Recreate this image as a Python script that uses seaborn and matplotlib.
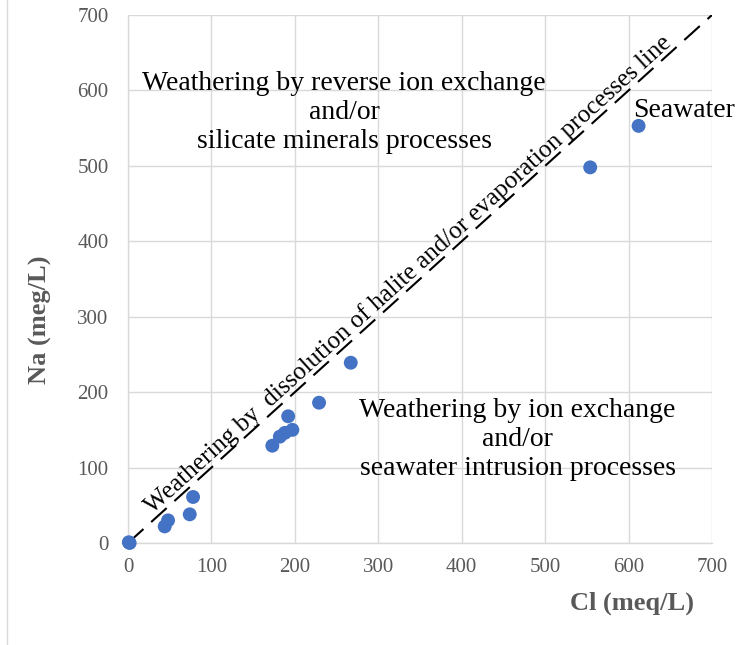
import matplotlib
matplotlib.use("Agg")
import matplotlib.pyplot as plt
from matplotlib.lines import Line2D
import seaborn as sns
import pandas as pd

# Chloride vs sodium concentrations of the sampled waters (meq/L)
cl = [1, 2, 44, 48, 74, 78, 173, 182, 188, 197, 192, 229, 267, 554, 612]
na = [1, 0, 22, 30, 38, 61, 129, 141, 146, 150, 168, 186, 239, 498, 553]

# 1:1 halite dissolution reference line
ref_x = [0, 700]
ref_y = [0, 700]

ticks = [0, 100, 200, 300, 400, 500, 600, 700]

df = pd.DataFrame({"Cl": cl, "Na": na})

sns.set_theme(style="whitegrid")
plt.rcParams["font.family"] = ["Liberation Serif", "DejaVu Serif"]

fig = plt.figure(figsize=(7.45, 6.45), dpi=100)
ax = fig.add_axes([128 / 745, 1 - 543 / 645, 584 / 745, 528 / 645])

grid_c = "#d9d9d9"
text_gray = "#595959"

sns.lineplot(x=ref_x, y=ref_y, ax=ax, color="black", linewidth=1.5,
             dashes=False, zorder=3)
ax.lines[-1].set_dashes([10, 5])

sns.scatterplot(data=df, x="Cl", y="Na", ax=ax, color="#4472C4", s=100,
                edgecolor="none", zorder=4, clip_on=False)

ax.set_xlim(0, 700)
ax.set_ylim(0, 700)
ax.set_xticks(ticks)
ax.set_yticks(ticks)
ax.grid(True, color=grid_c, linewidth=1.0)
ax.set_axisbelow(True)
for side in ["top", "right"]:
    ax.spines[side].set_visible(False)
for side in ["left", "bottom"]:
    ax.spines[side].set_color(grid_c)
    ax.spines[side].set_linewidth(1.0)

ax.tick_params(axis="both", length=0, labelsize=15, labelcolor=text_gray)
ax.tick_params(axis="y", pad=14)
ax.tick_params(axis="x", pad=11)

ax.set_xlabel("Cl (meq/L)", fontsize=19, fontweight="bold", color=text_gray)
ax.set_ylabel("Na (meg/L)", fontsize=19, fontweight="bold", color=text_gray)
ax.xaxis.set_label_coords(0.863, -0.092)
ax.yaxis.set_label_coords(-0.13, 0.422)

ax.text(259, 571, "Weathering by reverse ion exchange\nand/or\nsilicate minerals processes",
        ha="center", va="center", fontsize=20, color="black",
        linespacing=1.2, multialignment="center")
ax.text(467, 137, "Weathering by ion exchange\nand/or\nseawater intrusion processes",
        ha="center", va="center", fontsize=20, color="black",
        linespacing=1.22, multialignment="center")
ax.text(605, 574, "Seawater", ha="left", va="center", fontsize=20, color="black")
ax.text(341, 349, "Weathering by  dissolution of halite and/or evaporation processes line",
        ha="center", va="baseline", fontsize=18.1, color="black",
        rotation=45, rotation_mode="anchor", transform_rotates_text=True)

fig.add_artist(Line2D([7 / 745, 7 / 745], [0, 1], transform=fig.transFigure,
                      color=grid_c, linewidth=1.0))

fig.savefig("out.png", dpi=100)
